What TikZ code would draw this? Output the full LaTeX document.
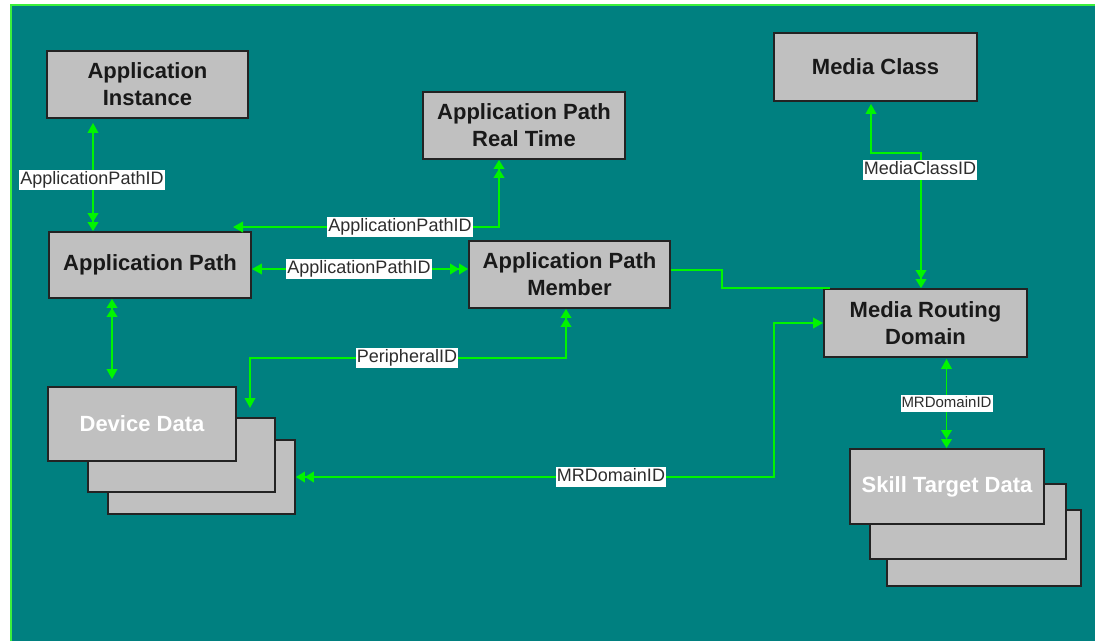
\documentclass[tikz,border=0pt]{standalone}
\usepackage{fontspec}
\setmainfont{Liberation Sans}
\usetikzlibrary{arrows.meta}
\definecolor{teal0}{RGB}{0,128,128}
\definecolor{lime0}{RGB}{0,245,0}
\definecolor{frame0}{RGB}{60,240,60}
\definecolor{edge0}{RGB}{35,35,35}
\definecolor{box0}{RGB}{192,192,192}
\definecolor{lbltxt}{RGB}{45,45,45}
\definecolor{ttl}{RGB}{25,25,25}
\tikzset{
  Tri/.tip={Triangle[length=10pt,width=10.5pt]},
  TT/.tip={Triangle[length=9pt,width=10.5pt] Triangle[length=9pt,width=10.5pt,sep=0pt]},
}
\begin{document}
\begin{tikzpicture}[x=1pt,y=-1pt,
  box/.style={draw=edge0, fill=box0, line width=1.8pt, inner sep=0pt, align=center,
    font=\fontsize{22}{27}\selectfont\bfseries, text=ttl},
  wbox/.style={box, text=white},
  conn/.style={draw=lime0, line width=1.9pt},
  lbl/.style={fill=white, text=lbltxt, font=\fontsize{18}{18}\selectfont,
    inner xsep=1pt, inner ysep=1.5pt, text height=13pt, text depth=3.5pt},
  slbl/.style={fill=white, text=lbltxt, font=\fontsize{15}{15}\selectfont,
    inner xsep=1pt, inner ysep=1.5pt, text height=11pt, text depth=3pt},
]
\useasboundingbox (0,0) rectangle (1095,641);
\fill[white] (0,0) rectangle (1095,641);
\fill[teal0] (11,5) rectangle (1095,641);
\draw[frame0, line width=2pt] (11,641) -- (11,5) -- (1095,5);

% boxes
\node[box, minimum width=201pt, minimum height=67pt] (ai) at (147.5,84.5) {Application\\Instance};
\node[box, minimum width=202pt, minimum height=66pt] (ap) at (150,265) {Application Path};
\node[box, minimum width=202pt, minimum height=67pt] (aprt) at (524,125.5) {Application Path\\Real Time};
\node[box, minimum width=201pt, minimum height=67pt] (apm) at (569.5,274.5) {Application Path\\Member};
\node[box, minimum width=203pt, minimum height=68pt] (mc) at (875.5,67) {Media Class};
\node[box, minimum width=203pt, minimum height=68pt] (mrd) at (925.5,323) {Media Routing\\Domain};

\node[box, minimum width=187pt, minimum height=74pt] (dd3) at (201.5,477) {};
\node[box, minimum width=187pt, minimum height=74pt] (dd2) at (181.5,455) {};
\node[wbox, minimum width=188pt, minimum height=74pt] (dd) at (142,424) {Device Data};

\node[box, minimum width=194pt, minimum height=76pt] (st3) at (984,548) {};
\node[box, minimum width=196pt, minimum height=75pt] (st2) at (968,521.5) {};
\node[wbox, minimum width=194pt, minimum height=75pt] (st) at (947,486.5) {Skill Target Data};

% free ends / bends
\coordinate (apEnd) at (233,227);
\coordinate (pEnd) at (250,408);
\coordinate (mrdBend) at (774,323);

% connectors
\draw[conn, {Tri}-{TT}] ([xshift=-54.5pt,yshift=-4pt]ai.south) -- ([xshift=-57pt]ap.north);
\draw[conn, {TT}-{Tri}] ([xshift=-25pt]aprt.south) |- (apEnd);
\draw[conn, {Tri}-{TT}] ([yshift=-4pt]ap.east) -- ([yshift=5.5pt]apm.west);
\draw[conn, {TT}-{Tri}] ([xshift=-38pt]ap.south) -- ([xshift=-30pt,yshift=7pt]dd.north);
\draw[conn, {TT}-{Tri}] ([xshift=-3.5pt]apm.south) |- ([yshift=50pt]pEnd) -- (pEnd);
\draw[conn, {TT}-{Tri}] (dd3.east) -| (mrdBend) -- (mrd.west);
\draw[conn] ([yshift=4.5pt]apm.east) -- ++(51pt,0) |- ([xshift=7pt]mrd.north west);
\draw[conn, {Tri}-{TT}] ([xshift=-4.5pt,yshift=-2pt]mc.south) -- ++(0,-49pt) -| ([xshift=-4.5pt]mrd.north);
\draw[conn, {Tri}-{TT}] ([xshift=21pt,yshift=-1pt]mrd.south) -- ([xshift=-0.5pt]st.north);

% labels
\node[lbl] (l1) at (92,180) {ApplicationPathID};
\node[lbl] (l2) at (400,227) {ApplicationPathID};
\node[lbl] (l3) at (359,269) {ApplicationPathID};
\node[lbl] (l4) at (407,358) {PeripheralID};
\node[lbl] (l5) at (611,477) {MRDomainID};
\node[lbl] (l6) at (920,170) {MediaClassID};
\node[slbl] (l7) at (946.5,403) {MRDomainID};
\end{tikzpicture}
\end{document}
